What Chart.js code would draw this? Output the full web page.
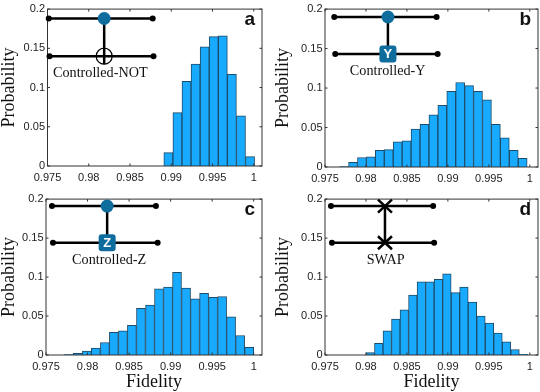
<!DOCTYPE html>
<html><head><meta charset="utf-8">
<script src="https://cdn.jsdelivr.net/npm/chart.js@4"></script>
<style>html,body{margin:0;padding:0;background:#fff;width:540px;height:392px;overflow:hidden}
canvas{position:absolute}</style></head><body>
<canvas id="a" style="left:0;top:0"></canvas>
<canvas id="b" style="left:270px;top:0"></canvas>
<canvas id="c" style="left:0;top:190px"></canvas>
<canvas id="d" style="left:270px;top:190px"></canvas>
<script>
const xTicks=[0.975,0.98,0.985,0.99,0.995,1];
const yTicks=[0,0.05,0.1,0.15,0.2];
const binsA=[.98965,.99075,.99185,.99295,.99405,.99515,.99625,.99735,.99845,.99955];
const probA=[.017,.068,.108,.13,.152,.165,.166,.117,.064,.012];
const binsB=[.97733,.97842,.97951,.9806,.98169,.98278,.98387,.98496,.98605,.98714,.98823,.98932,.99041,.9915,.99259,.99368,.99477,.99586,.99695,.99804,.99913];
const probB=[.0005,.006,.012,.013,.021,.022,.032,.033,.048,.054,.066,.078,.096,.107,.103,.096,.085,.054,.037,.021,.011];
const binsC=[.97775,.97883,.97992,.981,.98209,.98317,.98426,.98534,.98643,.98752,.9886,.98969,.99077,.99186,.99294,.99403,.99511,.9962,.99728,.99837,.99946];
const probC=[.0005,.002,.005,.009,.016,.029,.031,.038,.06,.064,.085,.087,.106,.086,.072,.079,.074,.075,.049,.025,.01];
const binsD=[.98052,.98156,.9826,.98364,.98468,.98572,.98676,.9878,.98884,.98988,.99092,.99196,.993,.99404,.99508,.99612,.99716,.9982,.99924];
const probD=[.003,.015,.031,.046,.058,.077,.094,.094,.097,.104,.08,.087,.068,.05,.041,.028,.017,.007,.001];
const SERIF='"Liberation Serif","Times New Roman",serif', SANS='"Liberation Sans",Arial,sans-serif';
const panels=[
 {id:'a',w:270,h:190,bins:binsA,prob:probA,L:47.5,R:262,T:4.5,B:166,yPad:0,letter:'a',gate:'X',label:'Controlled-NOT',xt:false,
  q:{l1:[.97515,.98775,.188],l2:[.97525,.98785,.14],c:.98187,ly:.118,lx:.9814}},
 {id:'b',w:270,h:190,bins:binsB,prob:probB,L:55,R:268,T:5,B:167,yPad:4,letter:'b',gate:'Y',label:'Controlled-Y',xt:false,
  q:{l1:[.97613,.98862,.19],l2:[.97625,.98875,.143],c:.98268,ly:.121,lx:.98265}},
 {id:'c',w:270,h:202,bins:binsC,prob:probC,L:46,R:262,T:4,B:165,yPad:0,letter:'c',gate:'Z',label:'Controlled-Z',xt:true,
  q:{l1:[.97572,.98823,.191],l2:[.97584,.98844,.144],c:.98236,ly:.121,lx:.9826}},
 {id:'d',w:270,h:202,bins:binsD,prob:probD,L:55,R:268,T:4,B:165,yPad:4,letter:'d',gate:'S',label:'SWAP',xt:true,
  q:{l1:[.97573,.9882,.191],l2:[.97585,.98832,.144],c:.98232,ly:.121,lx:.9824}}
];
const frame={id:'frame',afterDatasetsDraw(ch,args,o){
 const g=ch.ctx,x=ch.scales.x,y=ch.scales.y,A=ch.chartArea;
 g.save();g.strokeStyle='#333';g.lineWidth=1;
 g.strokeRect(A.left,A.top,A.right-A.left,A.bottom-A.top);
 g.beginPath();
 xTicks.forEach(v=>{const p=x.getPixelForValue(v);g.moveTo(p,A.bottom);g.lineTo(p,A.bottom-2.5);g.moveTo(p,A.top);g.lineTo(p,A.top+2.5);});
 yTicks.forEach(v=>{const p=y.getPixelForValue(v);g.moveTo(A.left,p);g.lineTo(A.left+2.5,p);g.moveTo(A.right,p);g.lineTo(A.right-2.5,p);});
 g.stroke();g.restore();
 const P=o.panel,q=P.q,X=v=>x.getPixelForValue(v),Y=v=>y.getPixelForValue(v);
 g.save();g.strokeStyle='#000';g.fillStyle='#000';g.lineWidth=2.5;g.lineCap='butt';
 [q.l1,q.l2].forEach(l=>{g.beginPath();g.moveTo(X(l[0]),Y(l[2]));g.lineTo(X(l[1]),Y(l[2]));g.stroke();
  [l[0],l[1]].forEach(e=>{g.beginPath();g.arc(X(e),Y(l[2]),3,0,7);g.fill();});});
 const cx=X(q.c),y1=Y(q.l1[2]),y2=Y(q.l2[2]);
 g.beginPath();g.moveTo(cx,y1);g.lineTo(cx,y2+(P.gate==='X'?8:0));g.stroke();
 if(P.gate==='S'){
  [y1,y2].forEach(yy=>{g.beginPath();g.moveTo(cx-7,yy-6.5);g.lineTo(cx+7,yy+6.5);g.moveTo(cx+7,yy-6.5);g.lineTo(cx-7,yy+6.5);g.stroke();});
 }else{
  g.fillStyle='#0f6d9e';g.beginPath();g.arc(cx,y1,6.5,0,7);g.fill();
  if(P.gate==='X'){g.lineWidth=1.2;g.beginPath();g.arc(cx,y2,8,0,7);g.stroke();}
  else{g.fillStyle='#0f6d9e';g.beginPath();g.roundRect(cx-8.5,y2-8.5,17,17,3);g.fill();
   g.fillStyle='#fff';g.font='bold 13px '+SANS;g.textAlign='center';g.textBaseline='middle';g.fillText(P.gate,cx,y2+.5);}
 }
 g.fillStyle='#111';g.font='14.2px '+SERIF;g.textAlign='center';g.textBaseline='middle';
 g.fillText(P.label,X(q.lx),Y(q.ly));
 g.fillStyle='#111';g.font='bold 19px '+SANS;g.textAlign='right';g.textBaseline='middle';
 g.fillText(P.letter,A.right-7,A.top+11);
 g.restore();
}};
Chart.register(frame);
panels.forEach(P=>{
 const cv=document.getElementById(P.id);cv.width=P.w;cv.height=P.h;cv.style.width=P.w+'px';cv.style.height=P.h+'px';
 new Chart(cv,{type:'bar',
  data:{datasets:[{data:P.bins.map((b,i)=>({x:b,y:P.prob[i]})),backgroundColor:'#18aaff',borderColor:'#1d4a66',borderWidth:1,barPercentage:1,categoryPercentage:1}]},
  options:{responsive:false,animation:false,
   plugins:{legend:{display:false},tooltip:{enabled:false},frame:{panel:P}},
   scales:{
    x:{type:'linear',offset:false,min:.975,max:1.001,grid:{display:false,drawTicks:false,offset:false},border:{display:false},
     afterFit(s){s.height=P.h-P.B;},
     afterBuildTicks(s){s.ticks=xTicks.map(v=>({value:v}));},
     ticks:{autoSkip:false,maxRotation:0,padding:5.5,color:'#222',font:{family:SANS,size:11},callback:v=>String(v)},
     title:{display:P.xt,text:'Fidelity',color:'#111',font:{family:SERIF,size:18,lineHeight:1},padding:{top:0,bottom:1}}},
    y:{type:'linear',min:0,max:.2,grid:{display:false,drawTicks:false},border:{display:false},
     afterFit(s){s.width=P.L;},
     afterBuildTicks(s){s.ticks=yTicks.map(v=>({value:v}));},
     ticks:{autoSkip:false,padding:2.5,color:'#222',font:{family:SANS,size:11},callback:v=>String(v)},
     title:{display:true,text:'Probability',color:'#111',font:{family:SERIF,size:18,lineHeight:1},padding:{top:P.yPad,bottom:0}}}
   },
   layout:{padding:{left:0,right:P.w-P.R,top:P.T,bottom:0}}
  }});
});
</script></body></html>
